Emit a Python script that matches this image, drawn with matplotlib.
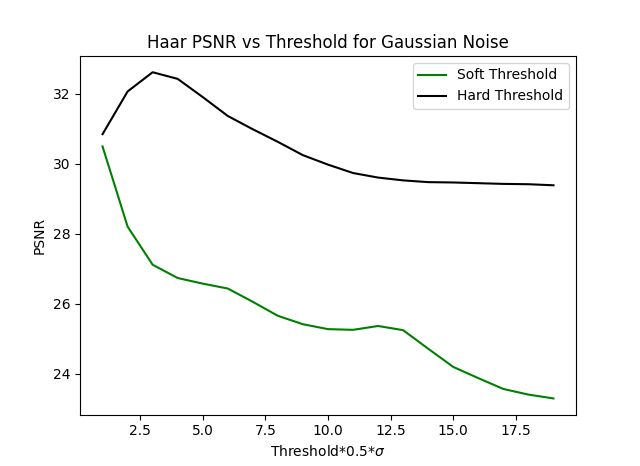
import matplotlib
matplotlib.use("Agg")
import matplotlib.pyplot as plt
import numpy as np

thresholds = np.arange(1, 20)
soft_psnr = [30.49, 28.20, 27.11, 26.73, 26.57, 26.43, 26.05, 25.65, 25.41, 25.27,
             25.25, 25.36, 25.24, 24.71, 24.19, 23.87, 23.56, 23.40, 23.29]
hard_psnr = [30.84, 32.06, 32.61, 32.42, 31.90, 31.36, 30.98, 30.62, 30.24, 29.97,
             29.73, 29.60, 29.52, 29.47, 29.46, 29.44, 29.42, 29.41, 29.38]

fig, ax = plt.subplots(figsize=(6.4, 4.66), dpi=100)
ax.plot(thresholds, soft_psnr, color='green', label='Soft Threshold')
ax.plot(thresholds, hard_psnr, color='black', label='Hard Threshold')
ax.set_title('Haar PSNR vs Threshold for Gaussian Noise')
ax.set_xlabel(r'Threshold*0.5*$\sigma$')
ax.set_ylabel('PSNR')
ax.legend()

fig.savefig('out.png')
